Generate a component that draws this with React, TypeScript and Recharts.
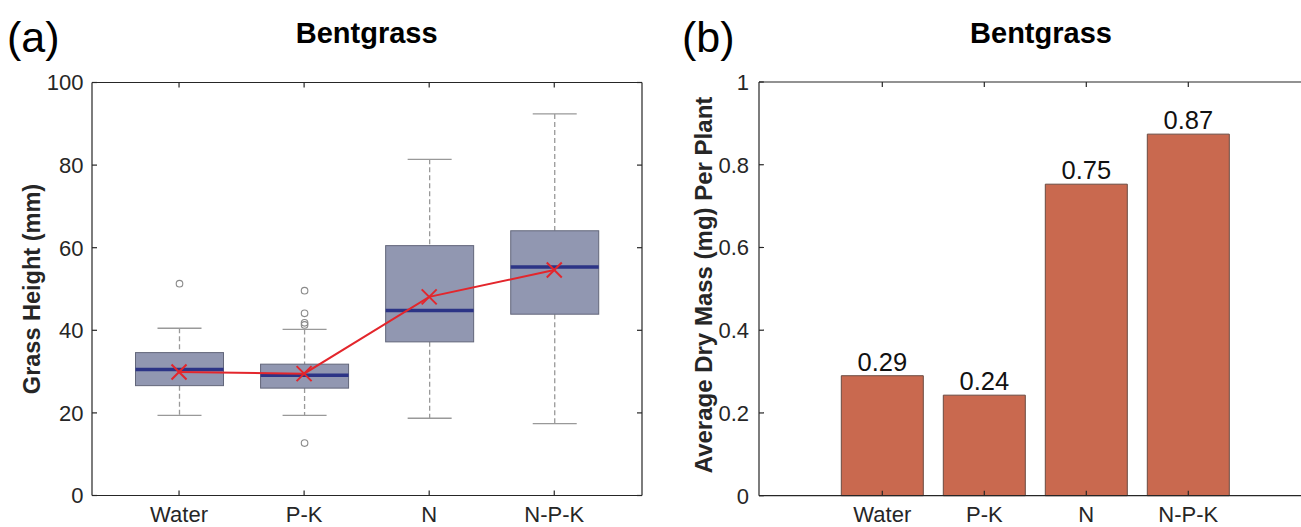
import { Bar, ComposedChart, LabelList, Line, XAxis, YAxis } from "recharts";

const FONT = "'Liberation Sans', Arial, Helvetica, sans-serif";
const INK = "#262626";

// panel (a): grass height box plot
const categories = ["Water", "P-K", "N", "N-P-K"];
const whiskerLow = [19.4, 19.4, 18.7, 17.4];
const quartile1 = [26.6, 26.0, 37.2, 43.9];
const medians = [30.5, 29.1, 44.8, 55.3];
const quartile3 = [34.6, 31.8, 60.5, 64.1];
const whiskerHigh = [40.5, 40.2, 81.4, 92.4];
const outliers = [[51.3], [49.6, 44.1, 41.8, 41.3, 12.7], [], []];
const means = [29.9, 29.5, 48.1, 54.6];
const heightTicks = [0, 20, 40, 60, 80, 100];

// panel (b): dry mass bars
const dryMass = [0.29, 0.243, 0.753, 0.874];
const massTicks = [0, 0.2, 0.4, 0.6, 0.8, 1];

const boxData = categories.map((name, i) => ({
  name,
  lo: whiskerLow[i],
  q1: quartile1[i],
  median: medians[i],
  q3: quartile3[i],
  hi: whiskerHigh[i],
  outliers: outliers[i],
  mean: means[i],
  range: [whiskerLow[i], whiskerHigh[i]],
}));

const massData = categories.map((name, i) => ({ name, mass: dryMass[i] }));

const tickStyle = { fill: INK, fontSize: 22, fontFamily: FONT };
const axisLine = { stroke: INK, strokeWidth: 1.2 };
const tickLine = { stroke: INK, strokeWidth: 1.2 };
const blank = () => "";

function BoxShape(props: any) {
  const { x, y, width, height, payload } = props;
  const top = Math.min(y, y + height);
  const bottom = Math.max(y, y + height);
  const { lo, hi } = payload;
  // same linear scale the bar used, read back from its own extent
  const py = (v: number) => bottom - ((v - lo) / (hi - lo)) * (bottom - top);
  const cx = x + width / 2;
  const cap = width / 4;
  const whisker = { stroke: "#999999", strokeWidth: 1.3 };
  return (
    <g>
      <line x1={cx} x2={cx} y1={py(hi)} y2={py(payload.q3)} {...whisker} strokeDasharray="5 3" />
      <line x1={cx} x2={cx} y1={py(payload.q1)} y2={py(lo)} {...whisker} strokeDasharray="5 3" />
      <line x1={cx - cap} x2={cx + cap} y1={py(hi)} y2={py(hi)} {...whisker} />
      <line x1={cx - cap} x2={cx + cap} y1={py(lo)} y2={py(lo)} {...whisker} />
      <rect
        x={x}
        y={py(payload.q3)}
        width={width}
        height={py(payload.q1) - py(payload.q3)}
        fill="#9197b1"
        stroke="#62667a"
        strokeWidth={1}
      />
      <line
        x1={x}
        x2={x + width}
        y1={py(payload.median)}
        y2={py(payload.median)}
        stroke="#2c3486"
        strokeWidth={3.5}
      />
      {payload.outliers.map((v: number, k: number) => (
        <circle key={k} cx={cx} cy={py(v)} r={3.3} fill="none" stroke="#8a8a8a" strokeWidth={1.1} />
      ))}
    </g>
  );
}

function MeanMark(props: any) {
  const { cx, cy } = props;
  const s = 7.5;
  return (
    <g>
      <line x1={cx - s} x2={cx + s} y1={cy - s} y2={cy + s} stroke="#e3262c" strokeWidth={2} />
      <line x1={cx - s} x2={cx + s} y1={cy + s} y2={cy - s} stroke="#e3262c" strokeWidth={2} />
    </g>
  );
}

function HeightChart() {
  const pad = { left: 24.5, right: 25.2 };
  return (
    <ComposedChart
      width={660}
      height={527}
      data={boxData}
      margin={{ top: 77.5, right: 10, bottom: 0, left: 0 }}
    >
      <XAxis
        dataKey="name"
        padding={pad}
        height={31.5}
        interval={0}
        tickSize={-5}
        tickMargin={15.5}
        tick={tickStyle}
        axisLine={axisLine}
        tickLine={tickLine}
      />
      <XAxis
        xAxisId="top"
        orientation="top"
        dataKey="name"
        padding={pad}
        height={5}
        interval={0}
        tickSize={-5}
        tickFormatter={blank}
        axisLine={axisLine}
        tickLine={tickLine}
      />
      <YAxis
        type="number"
        domain={[0, 100]}
        ticks={heightTicks}
        interval={0}
        width={92}
        tickSize={-5}
        tickMargin={13.5}
        tick={tickStyle}
        axisLine={axisLine}
        tickLine={tickLine}
      />
      <YAxis
        yAxisId="right"
        orientation="right"
        type="number"
        domain={[0, 100]}
        ticks={heightTicks}
        interval={0}
        width={8}
        tickSize={-5}
        tickFormatter={blank}
        axisLine={axisLine}
        tickLine={tickLine}
      />
      <Bar dataKey="range" barSize={88} shape={<BoxShape />} isAnimationActive={false} />
      <Line
        xAxisId="top"
        yAxisId="right"
        type="linear"
        dataKey="mean"
        stroke="#e3262c"
        strokeWidth={2}
        dot={(p: any) => <MeanMark key={p.index} {...p} />}
        activeDot={false}
        isAnimationActive={false}
      />
    </ComposedChart>
  );
}

function MassChart() {
  const pad = { left: 72.3, right: 83.7 };
  return (
    <ComposedChart
      width={700}
      height={527}
      data={massData}
      margin={{ top: 77, right: 19, bottom: 0, left: 0 }}
    >
      <XAxis
        dataKey="name"
        padding={pad}
        height={31.3}
        interval={0}
        tickSize={-5}
        tickMargin={15.5}
        tick={tickStyle}
        axisLine={axisLine}
        tickLine={tickLine}
      />
      <XAxis
        xAxisId="top"
        orientation="top"
        dataKey="name"
        padding={pad}
        height={5}
        interval={0}
        tickSize={-5}
        tickFormatter={blank}
        axisLine={axisLine}
        tickLine={tickLine}
      />
      <YAxis
        type="number"
        domain={[0, 1]}
        ticks={massTicks}
        interval={0}
        width={109}
        tickSize={-5}
        tickMargin={15}
        tick={tickStyle}
        tickFormatter={(v: number) => (v === 0 || v === 1 ? String(v) : v.toFixed(1))}
        axisLine={axisLine}
        tickLine={tickLine}
      />
      <YAxis
        yAxisId="right"
        orientation="right"
        type="number"
        domain={[0, 1]}
        ticks={massTicks}
        interval={0}
        width={8}
        tickSize={-5}
        tickFormatter={blank}
        axisLine={axisLine}
        tickLine={tickLine}
      />
      <Bar dataKey="mass" barSize={82} fill="#c9694f" stroke="#6a4a40" strokeWidth={1} isAnimationActive={false}>
        <LabelList
          dataKey="mass"
          position="top"
          offset={5}
          formatter={(v: any) => Number(v).toFixed(2)}
          style={{ fill: "#111111", fontSize: 25.5, fontFamily: FONT }}
        />
      </Bar>
    </ComposedChart>
  );
}

export default function App() {
  return (
    <div
      style={{
        position: "fixed",
        left: 0,
        top: 0,
        width: 1301,
        height: 527,
        overflow: "hidden",
        background: "#ffffff",
      }}
    >
      <div style={{ position: "absolute", left: 0, top: 0 }}>
        <HeightChart />
      </div>
      <div style={{ position: "absolute", left: 650, top: 0 }}>
        <MassChart />
      </div>
      <svg
        width={1301}
        height={527}
        style={{ position: "absolute", left: 0, top: 0, pointerEvents: "none" }}
        fontFamily={FONT}
      >
        <text x={7} y={52} fontSize={43} fill="#000">(a)</text>
        <text x={366.7} y={43} fontSize={29} fontWeight="bold" textAnchor="middle" fill="#000">
          Bentgrass
        </text>
        <text
          transform="translate(40,289) rotate(-90)"
          fontSize={23.5}
          fontWeight="bold"
          textAnchor="middle"
          fill={INK}
        >
          Grass Height (mm)
        </text>
        <text x={682} y={52} fontSize={43} fill="#000">(b)</text>
        <text x={1041} y={43} fontSize={29} fontWeight="bold" textAnchor="middle" fill="#000">
          Bentgrass
        </text>
        <text
          transform="translate(712,285) rotate(-90)"
          fontSize={24}
          fontWeight="bold"
          textAnchor="middle"
          fill={INK}
        >
          Average Dry Mass (mg) Per Plant
        </text>
      </svg>
    </div>
  );
}
